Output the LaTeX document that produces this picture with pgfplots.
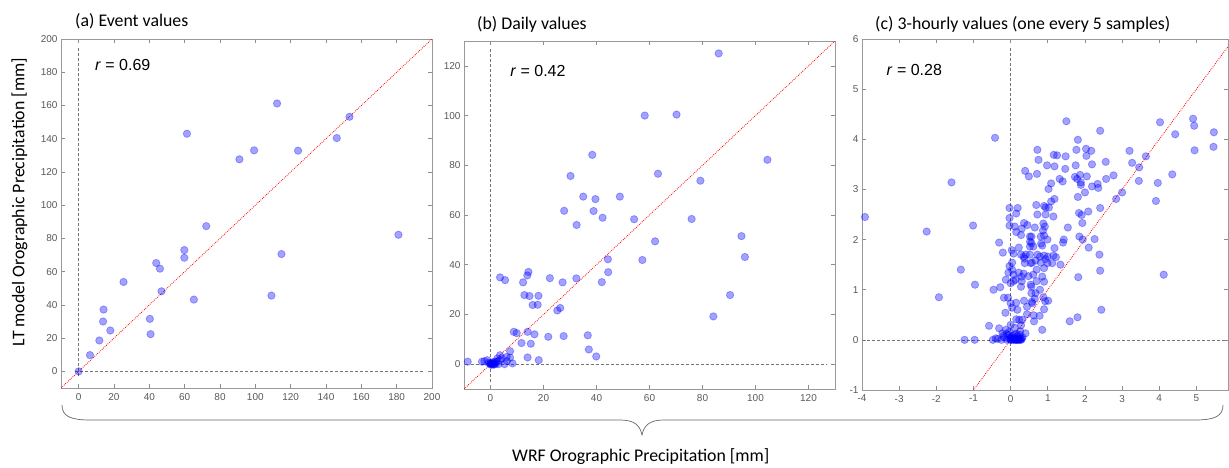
\documentclass[border=0pt]{standalone}
\usepackage{fontspec}
\setmainfont{Carlito}
\newfontfamily\arialf{Liberation Sans}
\usepackage{pgfplots}
\pgfplotsset{compat=1.18}
\usepackage{pgfplotstable}

\pgfplotstableread{
x y
0 0
6.4 9.8
11.7 18.6
13.8 30
14.1 37.2
17.9 24.6
25.4 53.8
40.3 31.6
40.7 22.4
43.9 65.2
46 61.8
46.9 48.2
59.8 73
59.8 68.4
61.3 143
65.2 43.2
72.2 87.4
91 127.6
99.3 133
109.1 45.6
112.3 161.2
114.8 70.6
124.2 132.8
146.1 140.4
153.3 153.2
181 82.2
}\dataA

\pgfplotstableread{
x y
-8.6 1.0
-3.2 1.0
-2.3 1.2
-1.2 1.6
-0.75 0.5
-0.1 0.3
0.5 0
1.1 0.3
1.8 1.0
2.4 1.0
3.0 0
3.6 1.6
4.3 2.3
5.3 0
6.2 1.2
7.4 2.6
8.3 0.3
0 0
0.8 0.2
1.5 0
0.2 0.5
1.0 0.8
2.0 0.2
0.3 -0.3
1.3 -0.2
2.6 2.3
3.6 3.6
6.1 2.9
7.4 5.2
3.6 34.9
5.5 33.8
8.8 13.0
9.9 12.5
11.7 8.5
12.3 32.9
12.8 27.8
13.9 35.7
14.3 37.1
14.7 27.4
14.0 13.0
14.0 2.7
15.2 8.2
15.9 23.8
16.6 12.0
17.8 23.9
18.1 27.5
18.2 1.6
21.8 11.0
22.4 34.6
25.2 21.6
26.3 22.6
27.2 32.9
27.6 11.3
27.8 61.7
30.2 75.7
32.5 56.0
32.4 34.5
35.0 67.4
36.7 11.6
37.1 5.9
38.4 84.2
38.9 61.6
39.6 66.4
39.9 3.1
42.0 33.0
42.3 58.9
44.3 42.2
44.4 37.0
48.8 67.4
54.2 58.3
57.3 41.9
58.2 100.0
62.1 49.4
63.2 76.6
70.2 100.4
75.9 58.4
79.2 73.8
84.1 19.2
86.1 125.0
90.4 27.8
94.7 51.5
96.0 43.1
104.5 82.2
}\dataB

\pgfplotstableread{
x y
-3.92 2.45
-2.26 2.16
-1.93 0.85
-1.59 3.14
-1.34 1.40
-1.24 0
-1.01 2.28
-0.97 0
-0.96 1.10
-0.58 0.28
-0.48 0
-0.46 1.0
-0.42 4.03
-0.40 0.03
-0.31 1.94
-0.31 0.23
-0.28 1.05
-0.03 2.63
-0.03 2.43
-0.03 2.28
0.19 2.63
0.15 2.52
0.11 2.26
0.15 2.15
0.28 2.09
0.30 2.22
0.36 2.33
0.45 2.29
0.52 2.06
0.52 1.96
0.52 1.86
-0.21 1.74
0.03 1.79
0.08 1.72
0.22 1.84
0.28 1.70
0.35 1.66
0.41 1.70
0.57 1.54
0.04 1.54
-0.03 1.47
-0.13 1.20
-0.06 1.34
0.08 1.30
0.22 1.34
0.35 1.32
0.48 1.27
0.08 1.17
0.30 1.17
0.54 1.10
-0.18 0.84
-0.07 0.84
0.15 0.74
0.36 0.78
0.57 0.76
0.04 0.64
0.44 0.66
-0.14 0.54
0.15 0.41
0.44 0.51
-0.13 0.20
0.11 0.24
0.28 0.29
0.40 0.13
-0.22 0.13
-0.04 0.16
0.18 0
0.04 1.40
0.0 1.13
0.0 0.73
0.0 0.30
0.29 1.26
0.28 1.06
0.23 0.40
0.26 0.17
0.37 1.62
0.39 3.37
0.49 3.26
0.38 1.53
0.13 1.20
0.18 0.60
0.31 0.40
-0.35 0.02
-0.25 0
-0.18 0.05
-0.10 0
-0.05 0.02
0 0
0 0.05
0.02 0
0.05 0.01
0.08 0
0.10 0.03
0.12 0
0.15 0
0.17 0.02
0.20 0
0.22 0.01
0.25 0
0.28 0
0.30 0.02
0.05 0.08
0.10 0.10
-0.05 0.10
0.20 0.08
0.15 0.12
0.25 0.10
0.32 0.05
0.0 0.02
0.07 0.03
0.13 0.01
0.18 0.03
0.23 0.03
0.27 0.02
-0.20 0.08
-0.10 0.12
0.69 2.69
0.90 2.67
0.94 2.64
1.03 2.64
0.72 2.50
0.94 2.50
1.15 2.46
1.18 2.81
1.09 2.76
0.65 2.24
0.88 2.32
0.92 2.26
0.87 2.18
0.56 2.06
0.81 2.06
0.90 2.08
1.54 2.24
1.43 2.00
1.41 1.94
0.56 1.93
0.99 2.00
0.61 1.86
0.85 1.88
0.52 1.70
0.72 1.70
0.79 1.66
0.90 1.68
1.00 1.66
1.15 1.68
1.22 1.65
0.54 1.53
0.67 1.58
0.81 1.54
0.94 1.61
0.99 1.53
1.12 1.53
1.34 1.50
0.61 1.30
0.85 1.26
0.90 1.16
0.67 0.93
0.79 1.00
0.88 0.85
0.93 0.77
1.01 0.78
0.58 0.73
0.90 0.61
0.63 0.37
0.78 0.48
0.85 0.20
0.90 1.43
0.70 1.40
0.70 1.17
0.62 0.49
0.56 1.06
0.56 0.93
0.65 0.82
0.82 1.92
1.18 1.83
0.72 3.79
0.75 3.59
0.71 3.31
0.98 3.48
1.02 3.01
1.09 3.12
1.16 3.69
1.18 3.46
1.25 3.68
1.32 3.21
1.40 3.16
1.48 3.66
1.47 3.41
1.50 4.36
1.59 0.37
1.75 3.48
1.77 3.79
1.80 0.45
1.81 3.99
1.81 2.85
1.82 1.25
1.84 2.53
1.85 2.06
1.87 3.29
1.89 3.14
1.89 3.09
1.91 2.49
1.93 2.33
2.00 2.94
2.03 3.81
2.04 3.67
2.05 3.26
2.09 2.56
2.10 1.84
2.17 3.77
2.19 3.50
2.19 3.06
2.26 2.01
2.34 3.11
2.36 3.03
2.39 1.70
2.41 4.17
2.41 2.63
2.41 1.38
2.44 0.60
2.56 3.55
2.57 3.21
2.77 3.28
2.84 2.81
3.00 2.94
3.20 3.77
3.27 3.53
3.45 3.17
3.46 3.44
3.64 3.66
3.91 2.77
3.96 3.13
4.02 4.34
4.12 1.30
4.35 3.30
4.43 4.10
4.91 4.41
4.94 4.27
4.95 3.78
5.47 4.14
5.46 3.85
1.94 2.00
1.73 3.25
1.79 3.21
}\dataC

\pgfplotsset{
  panel/.style={
    scale only axis, anchor=south west,
    axis line style={draw=black!40, line width=0.7pt},
    tick align=inside, major tick length=4pt,
    every tick/.style={draw=black!45, line width=0.6pt},
    tick label style={font=\arialf\fontsize{10}{12}\selectfont, text=black!65},
    /pgf/number format/assume math mode=true,
    xticklabel style={yshift=-1.5pt},
  },
  pts/.style={only marks, mark=*, mark size=3.7pt,
    mark options={fill=blue, fill opacity=0.36, draw=blue, draw opacity=0.32, line width=0.8pt}},
  zero/.style={black!55, line width=0.6pt, dash pattern=on 3pt off 2pt},
  diag/.style={red, line width=0.8pt, dash pattern=on 0.8pt off 1.2pt},
}

\begin{document}
\begin{tikzpicture}
\useasboundingbox (0,0) rectangle (1229pt,467pt);

% (a)
\begin{axis}[panel, at={(61pt,79pt)}, width=371pt, height=349pt,
  xmin=-10, xmax=200, ymin=-10, ymax=200,
  xtick={0,20,...,200}, ytick={0,20,...,200}]
  \addplot[zero] coordinates {(0,-3) (0,195)};
  \addplot[zero] coordinates {(-2,0) (196,0)};
  \addplot[diag] coordinates {(-10,-10) (200,200)};
  \addplot[pts] table[x=x,y=y] {\dataA};
  \node[anchor=base west, inner sep=0, font=\arialf\fontsize{16}{19}\selectfont] at (axis cs:9.2,181) {\textit{r} = 0.69};
\end{axis}

% (b)
\begin{axis}[panel, at={(464pt,78pt)}, width=371pt, height=348pt,
  xmin=-10, xmax=130, ymin=-10, ymax=130,
  xtick={0,20,...,120}, ytick={0,20,...,120}]
  \addplot[zero] coordinates {(0,-7) (0,127)};
  \addplot[zero] coordinates {(-7.5,0) (127,0)};
  \addplot[diag] coordinates {(-10,-10) (130,130)};
  \addplot[pts] table[x=x,y=y] {\dataB};
  \node[anchor=base west, inner sep=0, font=\arialf\fontsize{16}{19}\selectfont] at (axis cs:7.4,115.6) {\textit{r} = 0.42};
\end{axis}

% (c)
\begin{axis}[panel, at={(862pt,77pt)}, width=366pt, height=351pt,
  xmin=-4, xmax=5.85, ymin=-1, ymax=6,
  xtick={-4,...,5}, ytick={-1,...,6}]
  \addplot[zero] coordinates {(0,-0.83) (0,5.85)};
  \addplot[zero] coordinates {(-4,0) (0.35,0)};
  \addplot[zero] coordinates {(0.57,0) (5.76,0)};
  \addplot[diag] coordinates {(-1,-1) (5.85,5.85)};
  \addplot[pts] table[x=x,y=y] {\dataC};
  \node[anchor=base west, inner sep=0, font=\arialf\fontsize{16}{19}\selectfont] at (axis cs:-3.34,5.27) {\textit{r} = 0.28};
\end{axis}

% titles
\node[anchor=base west, inner sep=0, font=\fontsize{17.8}{21}\selectfont] at (75pt,440.5pt) {(a) Event values};
\node[anchor=base west, inner sep=0, font=\fontsize{17.8}{21}\selectfont] at (477pt,437.7pt) {(b) Daily values};
\node[anchor=base west, inner sep=0, font=\fontsize{17.8}{21}\selectfont] at (875pt,437.7pt) {(c) 3-hourly values (one every 5 samples)};

% y label
\node[rotate=90, inner sep=0, font=\fontsize{17.8}{21}\selectfont] at (19.5pt,265pt) {LT model Orographic Precipitation [mm]};

% brace and x label
\draw[black!60, line width=0.7pt]
  (62pt,62pt) .. controls (62pt,51pt) and (70pt,47pt) .. (90pt,47pt)
  -- (620pt,47pt) .. controls (634pt,47pt) and (640pt,42pt) .. (642pt,32pt)
  .. controls (644pt,42pt) and (650pt,47pt) .. (664pt,47pt)
  -- (1195pt,47pt) .. controls (1215pt,47pt) and (1223pt,51pt) .. (1223pt,62pt);
\node[anchor=base west, inner sep=0, font=\fontsize{17.8}{21}\selectfont] at (512pt,5.3pt) {WRF Orographic Precipitation [mm]};
\end{tikzpicture}
\end{document}
